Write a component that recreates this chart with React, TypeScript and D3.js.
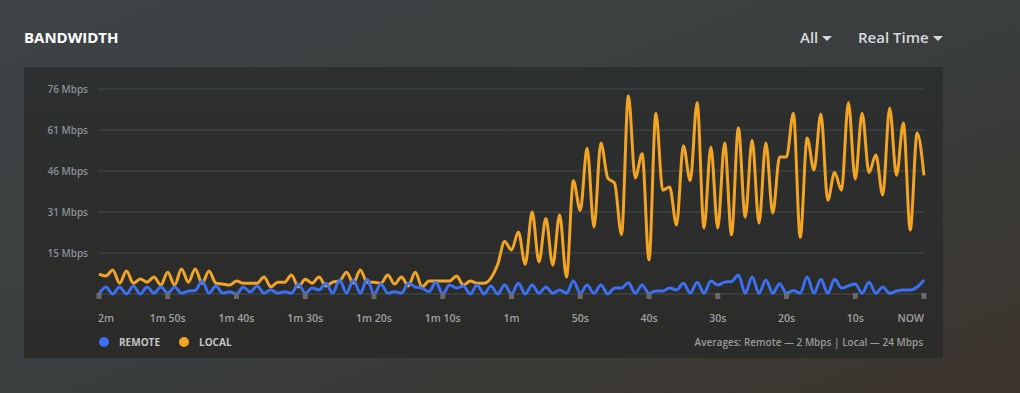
import React from "react";
import * as d3 from "d3";

// one sample per second, oldest first (2m ago -> now)
const remote = [
  0, 2.6, 0, 2.6, 0, 3, 0, 2.6, 0.3, 2.6, 0.3, 2.6, 0.3, 1.1, 1.3, 4.8, 0.3, 3, 0.3, 0.8,
  0, 2.6, 0.8, 3, 0.3, 1.5, 0.3, 0.8, 0.3, 3.7, 0.3, 2.2, 1.5, 4, 0.3, 5.2, 0.3, 5.2, 0.3, 5.5,
  0, 3.7, 0.3, 0.8, 0.3, 4, 2.6, 2.2, 0.8, 4.4, 0, 3.3, 2.2, 3, 0, 3.3, 0, 3, 0, 3.3,
  0, 4, 0, 3.3, 0.3, 2.6, 0.3, 1.5, 0.3, 4.8, 0.3, 3.3, 0.3, 3.3, 0, 2.2, 2.2, 4.2, 0.3, 3.3,
  0.2, 1.1, 1.1, 2.2, 1.5, 4, 0.3, 4.4, 0.3, 4.8, 3.3, 4.4, 4.6, 7, 0.3, 6.3, 0.3, 5.2, 0.3, 3.8,
  0.3, 1.3, 0.3, 6.3, 0.3, 5.5, 0.3, 5.5, 2.2, 3, 3.7, 0.3, 4.4, 0.3, 2.6, 0.3, 1.1, 1.5, 1.5, 2.6,
  5.2,
];

const local = [
  7.4, 6.7, 8.9, 4, 8.5, 4, 5.6, 4.4, 6.3, 3.3, 8.1, 3.3, 9.3, 4.4, 9.3, 4, 8.5, 4, 3.7, 3.3,
  4.8, 4, 4, 4, 6.3, 2.6, 4.4, 4.4, 7, 2.6, 5.5, 4, 6.3, 3, 4.4, 4.8, 8.1, 4, 8.9, 4.4,
  4.4, 4, 7, 3.7, 6.3, 3, 8.1, 2.6, 4.8, 4.8, 4.8, 4.8, 6.7, 3.3, 4.8, 4, 4, 5.9, 11, 19.5,
  16.3, 23, 11, 30.4, 11.9, 28, 10.7, 29.3, 6.3, 42, 31, 54, 24.8, 56, 43, 41, 22, 73.5, 43, 52,
  12.6, 67, 38.5, 39.7, 25.6, 55, 42, 71, 24.5, 54.5, 24.5, 56, 22, 61.5, 28.5, 57, 26.3, 56, 30, 50.8,
  50.8, 67, 21, 57.8, 46, 66.7, 34.8, 45, 38.5, 71, 42.6, 67, 45, 51.5, 36.7, 69, 44, 63.4, 23.7, 59.7,
  44,
];

const xTickSeconds = [-120, -110, -100, -90, -80, -70, -60, -50, -40, -30, -20, -10, 0];
const xTickLabels = ["2m", "1m 50s", "1m 40s", "1m 30s", "1m 20s", "1m 10s", "1m", "50s", "40s", "30s", "20s", "10s", "NOW"];

const yTickValues = [15.2, 30.4, 45.6, 60.8, 76];
const yTickLabels = ["15 Mbps", "31 Mbps", "46 Mbps", "61 Mbps", "76 Mbps"];

const seriesNames = ["REMOTE", "LOCAL"];
const seriesColors = ["#3b70f3", "#f2a424"];

const W = 1020;
const H = 393;
const font = "'Open Sans', 'Noto Sans', sans-serif";

export default function App() {
  const seconds = remote.map((_, i) => i - (remote.length - 1));

  const x = d3.scaleLinear().domain([-120, 0]).range([99, 924]);
  const y = d3.scaleLinear().domain([0, 76]).range([294, 89]);

  const line = d3
    .line<number>()
    .x((_, i) => x(seconds[i]))
    .y((d) => y(d))
    .curve(d3.curveMonotoneX);

  return (
    <svg
      width={W}
      height={H}
      style={{ position: "absolute", left: 0, top: 0, display: "block" }}
      fontFamily={font}
    >
      <defs>
        <linearGradient id="bg" x1="0" y1="0" x2="1" y2="1">
          <stop offset="0%" stopColor="#3e4446" />
          <stop offset="55%" stopColor="#393d3d" />
          <stop offset="100%" stopColor="#3c342c" />
        </linearGradient>
        <linearGradient id="panel" x1="0" y1="0" x2="0" y2="1">
          <stop offset="0%" stopColor="#2d3030" />
          <stop offset="100%" stopColor="#2b2b29" />
        </linearGradient>
      </defs>
      <rect width={W} height={H} fill="url(#bg)" />

      {/* header */}
      <text x={24} y={43} fill="#ffffff" fontSize={15} fontWeight={700}>
        BANDWIDTH
      </text>
      <text x={800} y={43} fill="#d6dadd" fontSize={15} fontWeight={600}>
        All
      </text>
      <path d="M822,36 L832,36 L827,41 Z" fill="#d6dadd" />
      <text x={858} y={43} fill="#d6dadd" fontSize={15} fontWeight={600}>
        Real Time
      </text>
      <path d="M933,36 L943,36 L938,41 Z" fill="#d6dadd" />

      <rect x={24} y={67} width={919} height={291} fill="url(#panel)" />

      {/* grid + y labels */}
      {[0, ...yTickValues].map((v) => (
        <line key={v} x1={98} x2={924} y1={y(v)} y2={y(v)} stroke="#3e4242" strokeWidth={1.5} />
      ))}
      {yTickValues.map((v, i) => (
        <text key={v} x={88} y={y(v)} dy="0.35em" textAnchor="end" fill="#8a9196" fontSize={10} fontWeight={600}>
          {yTickLabels[i]}
        </text>
      ))}

      {/* lines */}
      <path d={line(local) ?? ""} fill="none" stroke={seriesColors[1]} strokeWidth={3} strokeLinejoin="round" />
      <path d={line(remote) ?? ""} fill="none" stroke={seriesColors[0]} strokeWidth={3} strokeLinejoin="round" />

      {/* x ticks */}
      {xTickSeconds.map((s, i) => (
        <g key={s}>
          <rect x={x(s) - 2.5} y={293} width={5} height={6} fill="#6a6a6a" />
          <text
            x={i === 0 ? x(s) - 1 : x(s)}
            y={322}
            textAnchor={i === 0 ? "start" : i === xTickSeconds.length - 1 ? "end" : "middle"}
            fill="#a0a0a0"
            fontSize={10.5}
            fontWeight={600}
          >
            {xTickLabels[i]}
          </text>
        </g>
      ))}

      {/* legend */}
      {seriesNames.map((n, i) => (
        <g key={n} transform={`translate(${i === 0 ? 104 : 184},342)`}>
          <circle r={5} fill={seriesColors[i]} />
          <text x={15} y={4} fill="#c4c4c4" fontSize={10} fontWeight={700}>
            {n}
          </text>
        </g>
      ))}
      <text x={923} y={346} textAnchor="end" fill="#9a9a9a" fontSize={10} fontWeight={600}>
        Averages: Remote — 2 Mbps | Local — 24 Mbps
      </text>
    </svg>
  );
}
